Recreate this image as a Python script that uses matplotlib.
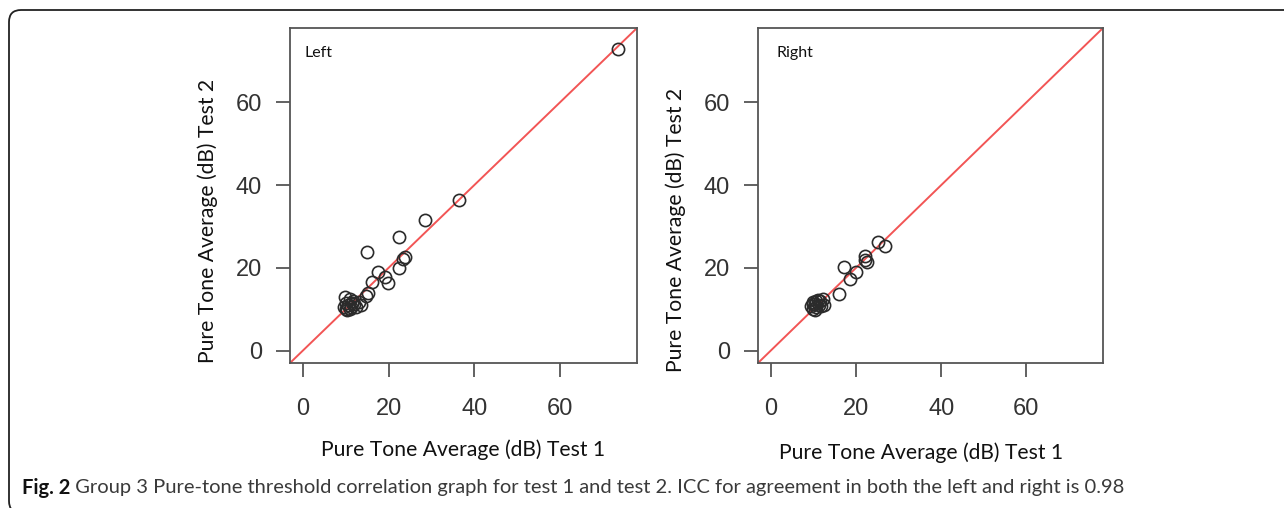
import matplotlib
matplotlib.use("Agg")
import matplotlib.pyplot as plt
from matplotlib.patches import FancyBboxPatch

# values (dB)
left_test1 = [73.6, 36.4, 28.6, 22.4, 15.0, 23.8, 23.4, 22.5, 17.6, 19.1, 19.8, 16.2,
              15.2, 14.7, 13.2, 9.8, 11.0, 12.5, 13.6, 10.0, 10.5, 11.0, 11.5, 10.0,
              12.0, 11.2, 10.4, 11.8, 9.6]
left_test2 = [73.0, 36.5, 31.5, 27.5, 23.9, 22.7, 22.2, 19.9, 19.1, 17.8, 16.4, 16.5,
              14.0, 13.3, 11.7, 12.9, 12.5, 10.5, 11.1, 10.0, 11.0, 10.0, 11.5, 11.5,
              11.2, 10.5, 9.8, 12.0, 10.6]
right_test1 = [26.9, 25.1, 22.2, 22.6, 22.2, 17.3, 19.9, 18.7, 16.1, 12.3, 12.6, 11.5,
               10.3, 9.5, 9.9, 10.7, 11.0, 10.0, 11.8, 10.4, 9.8, 11.3, 10.6]
right_test2 = [25.2, 26.3, 22.8, 21.4, 22.0, 20.2, 19.1, 17.3, 13.7, 12.5, 11.1, 11.9,
               11.3, 10.8, 10.1, 10.5, 12.3, 11.8, 10.8, 9.7, 11.2, 11.0, 12.0]
ticks = [0, 20, 40, 60]

W, H = 1284, 508
fig = plt.figure(figsize=(W / 100, H / 100), dpi=100)

# rounded frame around figure + caption (pixel coords, right and bottom run off the page)
frame = FancyBboxPatch((9, -5), 1500, 503,
                       boxstyle="round,pad=0,rounding_size=12",
                       transform=None, fill=False,
                       edgecolor="#222222", linewidth=1.3)
fig.patches.append(frame)

label_font = "Lato"
tick_font = "Liberation Sans"


def panel(x0, x1, xs, ys, name, name_x):
    ax = fig.add_axes([x0 / W, 1 - 363 / H, (x1 - x0) / W, (363 - 28) / H])
    ax.plot(xs, ys, 'o', markerfacecolor='none', markeredgecolor='#2b2b2b',
            markersize=8.8, markeredgewidth=1.2, zorder=3)
    ax.axline((0, 0), slope=1, color='#f25555', linewidth=1.4, zorder=2)
    ax.set_xlim(-3, 78)
    ax.set_ylim(-3, 78)
    ax.set_xticks(ticks)
    ax.set_yticks(ticks)
    for s in ax.spines.values():
        s.set_color('#555555')
        s.set_linewidth(1.3)
    ax.tick_params(direction='out', length=10, width=1.3, color='#555555',
                   labelsize=17, labelcolor='#333333')
    ax.tick_params(axis='x', pad=15)
    ax.tick_params(axis='y', pad=10)
    for t in ax.get_xticklabels() + ax.get_yticklabels():
        t.set_fontfamily(tick_font)
    fig.text(name_x / W, 1 - 53 / H, name, fontsize=11.5,
             family=label_font, color='#111111', va='center')
    return ax


panel(290, 637, left_test1, left_test2, "Left", 305)
panel(758, 1103, right_test1, right_test2, "Right", 777)

xlabel = "Pure Tone Average (dB) Test 1"
ylabel = "Pure Tone Average (dB) Test 2"
fig.text(463 / W, 1 - 450 / H, xlabel, ha='center', va='center',
         fontsize=15.2, family=label_font, color='#111111')
fig.text(921 / W, 1 - 453 / H, xlabel, ha='center', va='center',
         fontsize=15.2, family=label_font, color='#111111')
fig.text(208 / W, 1 - 221 / H, ylabel, ha='center', va='center', rotation=90,
         fontsize=15.2, family=label_font, color='#111111')
fig.text(676 / W, 1 - 230 / H, ylabel, ha='center', va='center', rotation=90,
         fontsize=15.2, family=label_font, color='#111111')

# caption: bold figure number followed by regular text
cap = fig.text(22 / W, 1 - 488 / H, "Fig. 2", ha='left', va='center',
               fontsize=14.5, family=label_font, weight='bold', color='#111111')
fig.canvas.draw()
bb = cap.get_window_extent(fig.canvas.get_renderer())
fig.text(bb.x1 / W, 1 - 488 / H,
         " Group 3 Pure-tone threshold correlation graph for test 1 and test 2. "
         "ICC for agreement in both the left and right is 0.98",
         ha='left', va='center', fontsize=14.5, family=label_font, color='#3a3a3a')

fig.savefig("out.png", dpi=100)
